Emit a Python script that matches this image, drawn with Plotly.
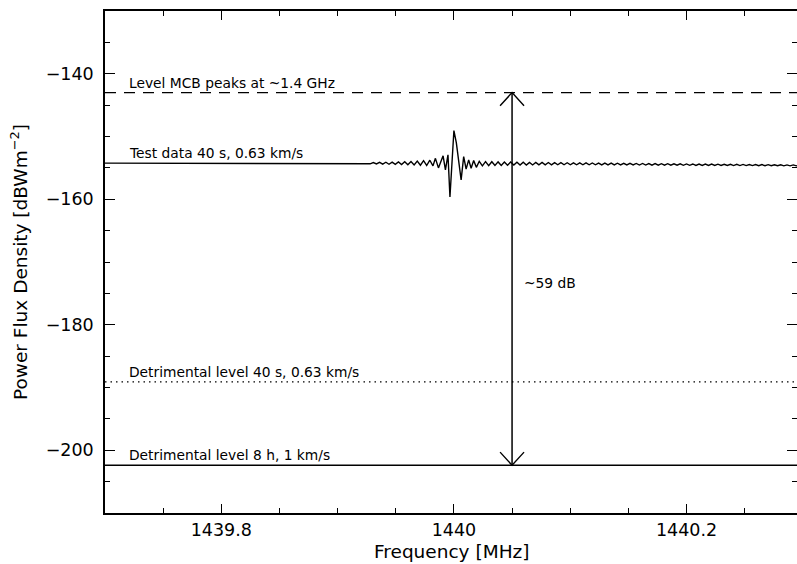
import plotly.graph_objects as go

# ---------------- data ----------------
freq_range = [1439.7, 1440.295]
level_range = [-210, -130]

level_mcb = -143.0
level_detr_40s = -189.1
level_detr_8h = -202.4
level_test_base = -154.25

arrow_freq = 1440.05
arrow_label = "~59 dB"

labels = {
    "mcb": "Level MCB peaks at ~1.4 GHz",
    "test": "Test data 40 s, 0.63 km/s",
    "detr40": "Detrimental level 40 s, 0.63 km/s",
    "detr8h": "Detrimental level 8 h, 1 km/s",
}
label_freq = 1439.719

# test data: flat start
flat_freq = [1439.70, 1439.925]
flat_level = [-154.25, -154.25]

# left ripple (step 0.0027 MHz from 1439.928)
ripple_left_start = 1439.928
ripple_step = 0.0027
ripple_left_level = [-154.35, -154.15, -154.38, -154.12, -154.40, -154.10, -154.42,
                     -154.08, -154.44, -154.05, -154.46, -154.02, -154.50, -153.98,
                     -154.54, -153.92, -154.58, -153.85, -154.62, -153.78, -154.68]

# burst around 1440 MHz
burst_freq = [1439.9841, 1439.9867, 1439.9907, 1439.9927, 1439.9949, 1439.9966,
              1440.0000, 1440.0021, 1440.0062, 1440.0084, 1440.0105, 1440.0127,
              1440.0148, 1440.0170, 1440.0193]
burst_level = [-153.48, -155.00, -153.08, -155.32, -152.92, -159.63,
               -149.05, -151.01, -156.91, -153.20, -155.21, -153.72,
               -155.05, -153.83, -154.92]

# right ripple (step 0.0027 MHz from 1440.0218)
ripple_right_start = 1440.0218
ripple_right_level = [
    -153.95, -154.68, -154.00, -154.65, -154.02, -154.62, -154.05, -154.60,
    -154.06, -154.58, -154.08, -154.56, -154.10, -154.55, -154.10, -154.54,
    -154.12, -154.53, -154.12, -154.52, -154.14, -154.52, -154.15, -154.51,
    -154.16, -154.50, -154.17, -154.50, -154.18, -154.50, -154.19, -154.50,
    -154.20, -154.50, -154.21, -154.51, -154.22, -154.51, -154.23, -154.52,
    -154.24, -154.52, -154.25, -154.53, -154.26, -154.53, -154.27, -154.54,
    -154.28, -154.54, -154.29, -154.55, -154.30, -154.55, -154.31, -154.56,
    -154.32, -154.56, -154.33, -154.57, -154.34, -154.58, -154.35, -154.58,
    -154.36, -154.59, -154.37, -154.59, -154.38, -154.60, -154.39, -154.60,
    -154.40, -154.61, -154.40, -154.61, -154.41, -154.62, -154.42, -154.62,
    -154.43, -154.63, -154.44, -154.63, -154.45, -154.64, -154.46, -154.64,
    -154.47, -154.65, -154.48, -154.65, -154.49, -154.66, -154.50, -154.66,
    -154.51, -154.67, -154.52, -154.67, -154.53, -154.68, -154.54, -154.68,
]

# ---------------- build ----------------
left_freq = [round(ripple_left_start + ripple_step * k, 5) for k in range(len(ripple_left_level))]
right_freq = [round(ripple_right_start + ripple_step * k, 5) for k in range(len(ripple_right_level))]

test_freq = flat_freq + left_freq + burst_freq + right_freq
test_level = flat_level + ripple_left_level + burst_level + ripple_right_level

full_x = [1439.7, 1440.3]

BLACK = "#000000"
FONT = "DejaVu Sans"

fig = go.Figure()

fig.add_trace(go.Scatter(x=full_x, y=[level_mcb] * 2, mode="lines",
                         line=dict(color=BLACK, width=1.4, dash="11px,8px")))
fig.add_trace(go.Scatter(x=full_x, y=[level_detr_40s] * 2, mode="lines",
                         line=dict(color=BLACK, width=1.4, dash="1.5px,4px")))
fig.add_trace(go.Scatter(x=full_x, y=[level_detr_8h] * 2, mode="lines",
                         line=dict(color=BLACK, width=1.5)))
fig.add_trace(go.Scatter(x=test_freq, y=test_level, mode="lines",
                         line=dict(color=BLACK, width=1.4)))

# double arrow
head_dx = 0.0103
head_dy = 2.1
fig.add_trace(go.Scatter(x=[arrow_freq, arrow_freq], y=[level_mcb, level_detr_8h], mode="lines",
                         line=dict(color=BLACK, width=1.5)))
fig.add_trace(go.Scatter(x=[arrow_freq - head_dx, arrow_freq, arrow_freq + head_dx],
                         y=[level_mcb - head_dy, level_mcb, level_mcb - head_dy], mode="lines",
                         line=dict(color=BLACK, width=1.4)))
fig.add_trace(go.Scatter(x=[arrow_freq - head_dx, arrow_freq, arrow_freq + head_dx],
                         y=[level_detr_8h + head_dy, level_detr_8h, level_detr_8h + head_dy], mode="lines",
                         line=dict(color=BLACK, width=1.4)))

ann_font = dict(family=FONT, size=13.8, color=BLACK)
for key, lev in [("mcb", level_mcb), ("test", level_test_base), ("detr40", level_detr_40s), ("detr8h", level_detr_8h)]:
    fig.add_annotation(x=label_freq, y=lev, text=labels[key], showarrow=False,
                       xanchor="left", yanchor="bottom", yshift=0, font=ann_font)

fig.add_annotation(x=arrow_freq, y=(level_mcb + level_detr_8h) / 2, text=arrow_label,
                   showarrow=False, xanchor="left", yanchor="middle", xshift=10, yshift=-4,
                   font=ann_font)

axis_common = dict(showline=True, linecolor=BLACK, linewidth=1.5, mirror="allticks",
                   ticks="inside", tickcolor=BLACK, tickwidth=1.3, showgrid=False,
                   zeroline=False, automargin=False,
                   tickfont=dict(family=FONT, size=17.5, color=BLACK))

fig.update_xaxes(range=freq_range, tickvals=[1439.8, 1440.0, 1440.2],
                 ticktext=["1439.8", "1440", "1440.2"], ticklen=9,
                 minor=dict(dtick=0.05, tick0=1439.7, ticks="inside", ticklen=5,
                            tickcolor=BLACK, tickwidth=1.2, showgrid=False),
                 **axis_common)
fig.update_yaxes(range=level_range, tickvals=[-200, -180, -160, -140],
                 ticktext=["\u2212200", "\u2212180", "\u2212160", "\u2212140"], ticklen=10,
                 minor=dict(dtick=5, tick0=-210, ticks="inside", ticklen=5,
                            tickcolor=BLACK, tickwidth=1.2, showgrid=False),
                 ticklabelstandoff=6,
                 **axis_common)

title_font = dict(family=FONT, size=18.5, color=BLACK)
fig.add_annotation(xref="paper", yref="paper", x=0.5, y=0, yshift=-38,
                   text="Frequency [MHz]", showarrow=False, xanchor="center", yanchor="middle",
                   font=title_font)
fig.add_annotation(xref="paper", yref="paper", x=0, y=0.5, xshift=-86,
                   text="Power Flux Density [dBWm<sup>\u22122</sup>]", showarrow=False,
                   textangle=-90, xanchor="center", yanchor="middle", font=title_font)

fig.update_layout(width=797, height=564, margin=dict(l=105, r=0, t=11, b=51),
                  paper_bgcolor="white", plot_bgcolor="white", showlegend=False,
                  font=dict(family=FONT, color=BLACK))

fig.write_html("out.html", config={"displayModeBar": False},
               post_script="document.body.style.margin='0';document.body.style.overflow='hidden';")
